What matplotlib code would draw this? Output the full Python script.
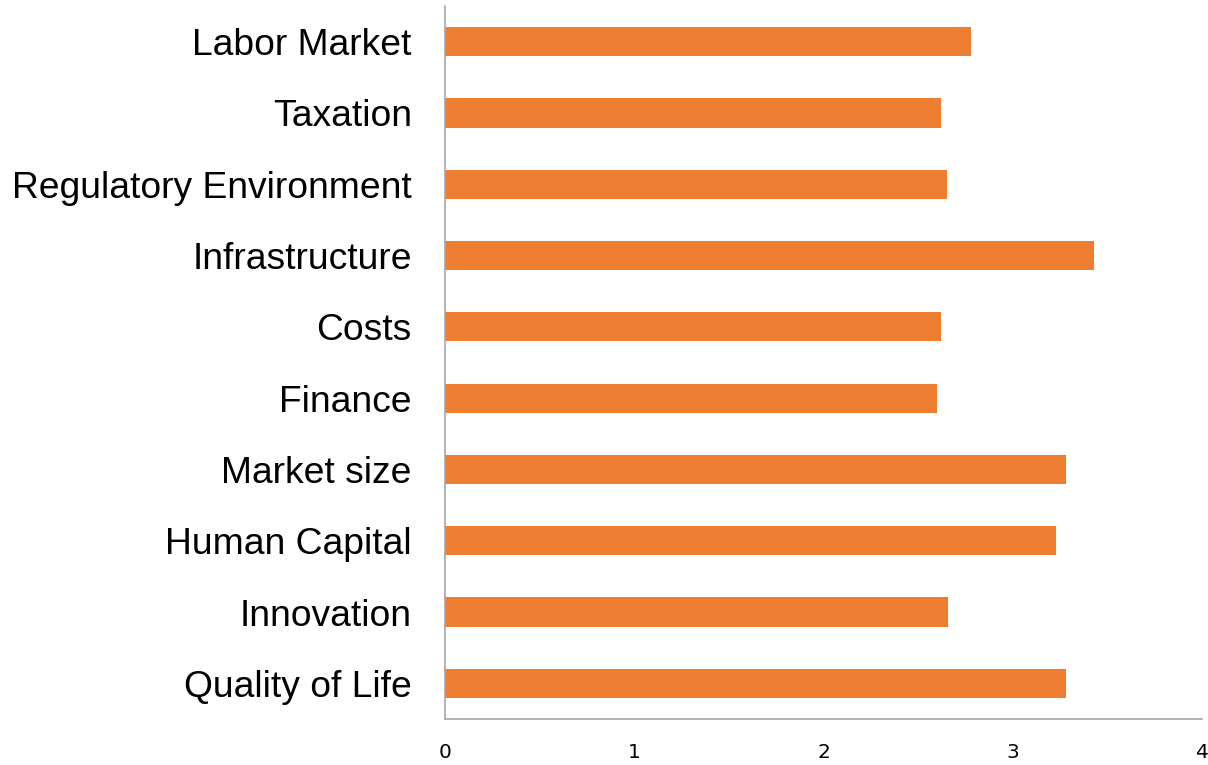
import matplotlib.pyplot as plt

# categories listed bottom to top
categories = ['Quality of Life', 'Innovation', 'Human Capital', 'Market size',
              'Finance', 'Costs', 'Infrastructure', 'Regulatory Environment',
              'Taxation', 'Labor Market']
scores = [3.28, 2.66, 3.23, 3.28, 2.60, 2.62, 3.43, 2.65, 2.62, 2.78]
xticks = [0, 1, 2, 3, 4]

fig = plt.figure(figsize=(12.08, 7.65), dpi=100)
ax = fig.add_axes([445 / 1208, 1 - 719 / 765, 757 / 1208, 713 / 765])

ax.barh(range(len(categories)), scores, height=0.41, color='#ED7D31')

ax.set_xlim(0, 4)
ax.set_ylim(-0.5, len(categories) - 0.5)
ax.set_xticks(xticks)
ax.set_xticklabels([str(t) for t in xticks], fontsize=14.5)
ax.set_yticks(range(len(categories)))
ax.set_yticklabels(categories, fontsize=26.8, family='Liberation Sans')
ax.tick_params(axis='y', length=0, pad=24)
ax.tick_params(axis='x', length=0, pad=17)

for side in ['top', 'right']:
    ax.spines[side].set_visible(False)
for side in ['left', 'bottom']:
    ax.spines[side].set_color('#A6A6A6')
    ax.spines[side].set_linewidth(1.2)

fig.savefig('out.png', dpi=100)
